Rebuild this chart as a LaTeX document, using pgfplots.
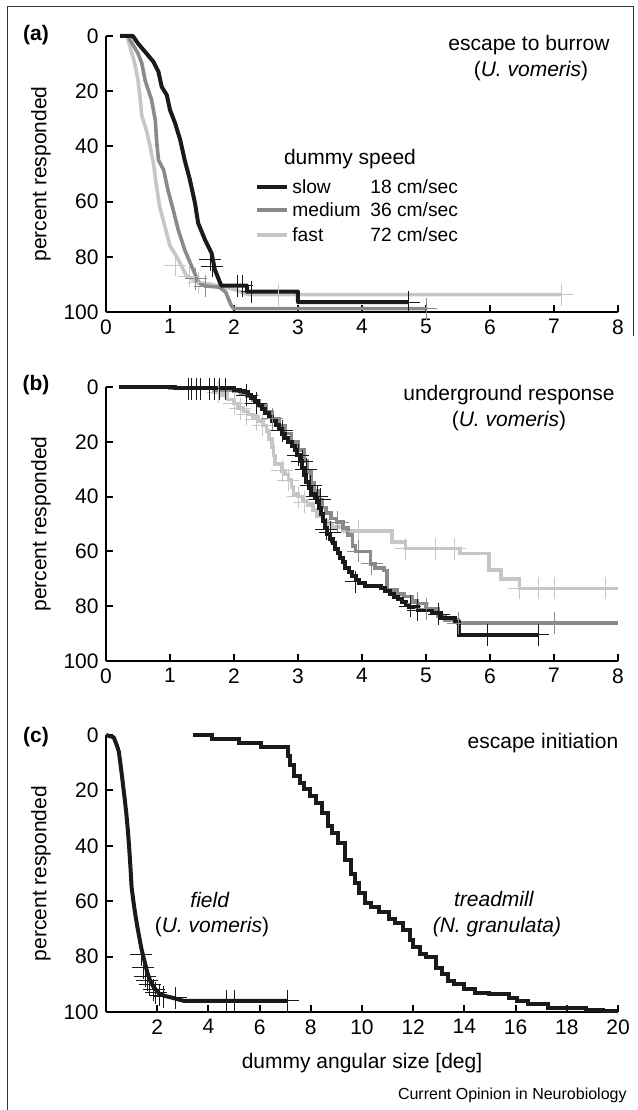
\documentclass[border=0pt]{standalone}
\usepackage{fontspec}
\setmainfont{Liberation Sans}
\usepackage{pgfplots}
\pgfplotsset{compat=1.18}
\definecolor{cslow}{HTML}{1A1A1A}
\definecolor{cmed}{HTML}{8A8A8A}
\definecolor{cfast}{HTML}{C6C6C6}
\pgfplotsset{
 km/.style={
  scale only axis, width=256pt,
  xmin=0,xmax=8, ymin=0,ymax=100, y dir=reverse,
  axis x line*=bottom, axis y line*=left,
  axis line style={line width=1.2pt, black},
  tick align=inside, major tick length=3.5pt,
  tick style={line width=1pt, black},
  ytick={0,20,...,100}, xtick={0,...,8},
  ticklabel style={font=\fontsize{10.5}{12}\selectfont},
  /pgf/number format/assume math mode=true,
  clip=false,
 },
 censor/.style={only marks, mark=+, mark size=5.5pt, mark options={line width=0.45pt}},
}
\begin{document}
\fontsize{10.5}{12}\selectfont
\begin{tikzpicture}
\path[use as bounding box] (0,0) rectangle (319pt,555pt);
% frame
\draw[line width=0.5pt, black!80] (3.5pt,0) -- (3.5pt,551.5pt) -- (316.5pt,551.5pt) -- (316.5pt,387pt);

% ---------------- (a)
\begin{axis}[km, at={(53pt,399pt)}, anchor=south west, height=138pt]
\addplot[cfast, line width=1.8pt, line join=round] coordinates {
(0.22,0) (0.33,0) (0.375,3.9) (0.45,10) (0.5,16) (0.53,22) (0.56,29) (0.63,34) (0.69,40)
(0.74,46) (0.79,54.6) (0.84,62) (0.92,69) (1.0,76) (1.13,81) (1.26,87) (1.45,89.4)
(1.64,90) (2.0,91.8) (2.22,93.7) (7.12,93.7)};
\addplot[cmed, line width=1.8pt, line join=round] coordinates {
(0.22,0) (0.35,0) (0.375,1.4) (0.5,6.3) (0.56,9.9) (0.61,16) (0.71,23) (0.77,30.4) (0.79,37.7)
(0.82,45) (0.9,48.5) (0.97,56) (1.05,63) (1.13,70.3) (1.23,77.5) (1.36,84.6) (1.45,89.4)
(1.55,90.6) (1.77,91) (1.87,92.8) (1.96,97.8) (2.0,98.8) (5.02,98.8)};
\addplot[cslow, line width=2pt, line join=round] coordinates {
(0.22,0) (0.42,0) (0.5,2.7) (0.61,5.7) (0.74,9.3) (0.82,13) (0.87,18.4) (0.95,21.4)
(1.0,26.8) (1.08,31.6) (1.16,37.7) (1.23,45) (1.31,52) (1.39,60.5) (1.44,67.8) (1.55,74)
(1.65,78.7) (1.7,84.6) (1.8,90.4) (2.2,90.4) (2.2,92.6) (3.0,92.6) (3.0,96.4) (4.73,96.4)};
\addplot[censor, cfast] coordinates {(1.08,83) (1.3,87) (1.45,89.4) (2.7,93.7) (7.12,93.7)};
\addplot[censor, cmed] coordinates {(1.4,88) (1.55,90.6) (5.0,98.8)};
\addplot[censor, cslow] coordinates {(1.63,81) (1.66,83.5) (2.05,90.4) (2.13,90.4) (2.28,92.6) (4.73,96.4)};
\end{axis}

% ---------------- (b)
\begin{axis}[km, at={(53pt,224.5pt)}, anchor=south west, height=137pt]
\addplot[const plot, cfast, line width=1.8pt] coordinates {
(0.2,0) (1.0,0.5) (1.69,2) (1.8,3) (1.9,4.6) (2.0,6) (2.06,7.6) (2.15,9) (2.22,10)
(2.3,11) (2.38,12.5) (2.45,14) (2.51,16) (2.55,19) (2.59,22) (2.62,25) (2.64,28)
(2.75,30.6) (2.8,32) (2.85,34) (2.9,36.5) (2.93,39) (3.0,40) (3.07,41.5) (3.15,43)
(3.23,45) (3.3,47) (3.38,48.7) (3.46,50) (3.54,51) (3.7,52.6) (4.47,56.6) (4.68,59)
(5.53,60.8) (5.98,66.8) (6.17,70) (6.46,73.5) (8.0,73.5)};
\addplot[const plot, cmed, line width=1.8pt] coordinates {
(0.2,0) (1.0,0.5) (1.7,1) (2.0,1.5) (2.1,2.5) (2.2,3.5) (2.3,5) (2.4,7) (2.5,9)
(2.6,11.5) (2.7,14) (2.8,17) (2.9,20) (3.0,23) (3.1,27) (3.15,31) (3.2,35) (3.26,38)
(3.32,41) (3.38,44) (3.44,46) (3.52,48) (3.6,49.3) (3.7,51.5) (3.78,54) (3.85,58)
(3.9,60) (4.07,60) (4.13,64.5) (4.2,66) (4.34,67) (4.39,74) (4.55,75.5) (4.66,76.5)
(4.78,78) (4.87,79) (5.0,81) (5.19,83.8) (5.3,85) (5.5,86.2) (8.0,86.2)};
\addplot[const plot, cslow, line width=2pt] coordinates {
(0.2,0) (1.08,0.5) (2.0,1) (2.1,1.5) (2.16,2) (2.22,3) (2.27,4) (2.33,5) (2.38,6.5)
(2.43,8) (2.48,9.5) (2.54,11) (2.59,12.5) (2.65,14) (2.70,15.5) (2.75,17) (2.80,18.5)
(2.85,20) (2.90,21.5) (2.95,23) (2.99,25) (3.03,27) (3.07,29.5) (3.10,32) (3.13,34.5)
(3.17,37) (3.21,39) (3.26,40.5) (3.30,42) (3.33,44) (3.36,46.5) (3.39,49) (3.42,51.5)
(3.46,53.5) (3.50,55.5) (3.54,57) (3.58,59) (3.62,60.5) (3.66,62.5) (3.70,64) (3.74,66)
(3.79,67.5) (3.84,69) (3.90,70.5) (3.96,71.5) (4.05,72.6) (4.29,73.5) (4.36,74.5)
(4.44,75.5) (4.50,76.5) (4.56,77.5) (4.62,78.5) (4.68,79.5) (4.74,80.3) (4.87,81.4)
(5.10,82.6) (5.24,84.4) (5.45,85.6) (5.51,90.4) (6.75,90.4)};
\addplot[censor, cfast] coordinates {(1.75,2) (2.0,6) (2.1,8) (2.2,10) (2.35,12) (2.45,14)
(2.75,30.6) (2.85,34) (3.0,40) (3.1,42) (3.94,52.6) (4.68,59) (5.15,59) (5.45,59)
(6.46,73.5) (6.75,73.5) (7.0,73.5) (7.8,73.5)};
\addplot[censor, cmed] coordinates {(2.6,11.5) (3.62,49.3) (3.94,60) (4.15,64.5) (4.87,79) (5.0,81) (5.5,86.2) (7.0,86.2)};
\addplot[censor, cslow] coordinates {(1.29,0.7) (1.34,0.7) (1.42,0.7) (1.48,0.7) (1.61,0.7)
(1.69,0.7) (1.77,0.7) (1.87,0.7) (2.2,3) (2.35,6) (2.75,16) (3.0,25) (3.07,27) (3.13,30)
(3.2,36) (3.3,40) (3.35,41) (3.44,52) (3.5,53) (3.9,71) (4.75,80) (4.87,81.4) (5.2,83)
(5.96,90.4) (6.75,90.4)};
\end{axis}

% ---------------- (c)
\begin{axis}[km, at={(53pt,49pt)}, anchor=south west, height=138.5pt,
  xmin=0, xmax=20, xtick={2,4,...,20}]
\addplot[cslow, line width=2pt, line join=round] coordinates {
(0.0,0) (0.3,0.8) (0.43,3.9) (0.5,6) (0.54,8.7) (0.6,13) (0.67,18.4) (0.73,23) (0.79,28)
(0.85,34) (0.9,40) (0.95,47) (1.0,55) (1.07,60) (1.14,64.5) (1.22,69) (1.3,73) (1.38,77)
(1.46,80) (1.54,83) (1.62,86) (1.74,89) (1.86,91) (2.0,92.5) (2.1,93.6) (2.3,94.2)
(2.57,94.8) (3.05,96) (7.1,96)};
\addplot[const plot, cslow, line width=2pt] coordinates {
(3.4,0) (4.16,1.5) (5.19,2.9) (6.06,4.4) (7.1,7.5) (7.2,11) (7.33,14.8) (7.57,17.2)
(7.73,19.6) (7.97,22) (8.2,24.5) (8.44,28) (8.68,33) (8.84,35.4) (9.08,39) (9.32,45)
(9.56,50) (9.71,53.6) (9.87,57.2) (10.1,60.8) (10.35,62) (10.67,64) (11.06,66.3)
(11.3,68) (11.62,70.5) (11.86,74) (12.0,76.6) (12.25,79) (12.5,80) (12.9,84) (13.13,86.3)
(13.37,88.7) (13.6,90) (14.0,91.8) (14.4,93) (14.95,93.6) (15.75,94.8) (16.06,96)
(16.5,97.2) (17.25,98.4) (18.76,99.4) (19.4,99.6) (20.0,99.6)};
\addplot[censor, cslow] coordinates {(1.38,79.4) (1.46,84) (1.54,87) (1.6,88.5) (1.7,90)
(1.86,92) (1.95,93) (2.1,94) (2.25,94.5) (2.73,94.8) (4.7,96) (5.0,96) (7.1,96)};
\end{axis}

% ---------------- texts
\node[font=\bfseries] at (18pt,537.5pt) {(a)};
\node[font=\bfseries] at (18pt,362.5pt) {(b)};
\node[font=\bfseries] at (18pt,186.5pt) {(c)};
\node[rotate=90] at (20.5pt,468pt) {percent responded};
\node[rotate=90] at (20.5pt,293pt) {percent responded};
\node[rotate=90] at (20.5pt,118.25pt) {percent responded};
\node at (264.5pt,532.5pt) {escape to burrow};
\node at (265.5pt,519.5pt) {(\textit{U. vomeris})};
\node at (175pt,475.5pt) {dummy speed};
\draw[cslow, line width=2.2pt] (128.5pt,461.5pt) -- (143.5pt,461.5pt);
\draw[cmed, line width=2.2pt] (128.5pt,450pt) -- (143.5pt,450pt);
\draw[cfast, line width=2.2pt] (128.5pt,437.5pt) -- (143.5pt,437.5pt);
\begin{scope}[every node/.style={anchor=west, inner sep=0pt, font=\fontsize{9.6}{11}\selectfont}]
\node at (146pt,461.5pt) {slow};
\node at (146pt,450pt) {medium};
\node at (146pt,437.5pt) {fast};
\node at (185pt,461.5pt) {18 cm/sec};
\node at (185pt,450pt) {36 cm/sec};
\node at (185pt,437.5pt) {72 cm/sec};
\end{scope}
\node at (254.5pt,357.5pt) {underground response};
\node at (254.5pt,344.5pt) {(\textit{U. vomeris})};
\node at (271.5pt,183.5pt) {escape initiation};
\node at (105pt,105pt) {\textit{field}};
\node at (106pt,91.5pt) {(\textit{U. vomeris})};
\node at (247pt,105.5pt) {\textit{treadmill}};
\node at (248.5pt,91.5pt) {\textit{(N. granulata)}};
\node at (181pt,23.5pt) {dummy angular size [deg]};
\node[anchor=east, font=\fontsize{8}{9}\selectfont, inner sep=0pt] at (313.5pt,7.5pt) {Current Opinion in Neurobiology};
\end{tikzpicture}
\end{document}
